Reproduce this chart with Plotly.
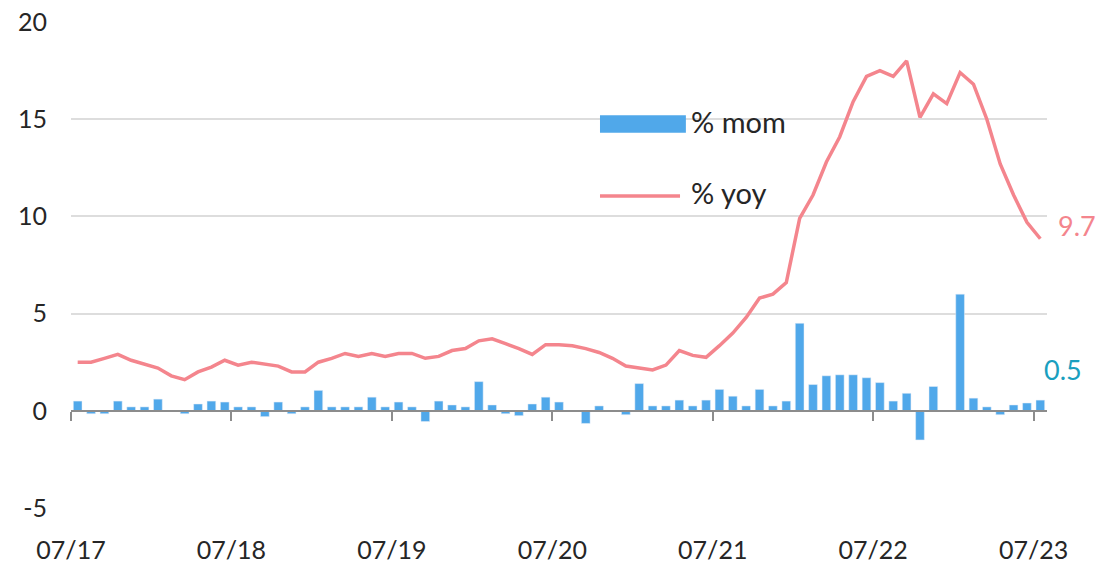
import plotly.graph_objects as go

# Monthly data, 07/2017 .. 07/2023 (73 months)
mom = [0.5, -0.15, -0.15, 0.5, 0.2, 0.2, 0.6, 0.0, -0.15, 0.35, 0.5, 0.45,
       0.2, 0.2, -0.3, 0.45, -0.15, 0.2, 1.05, 0.2, 0.2, 0.2, 0.7, 0.2,
       0.45, 0.2, -0.55, 0.5, 0.3, 0.2, 1.5, 0.3, -0.15, -0.25, 0.35, 0.7,
       0.45, 0.0, -0.65, 0.25, 0.0, -0.2, 1.4, 0.25, 0.25, 0.55, 0.25, 0.55,
       1.1, 0.75, 0.25, 1.1, 0.25, 0.5, 4.5, 1.35, 1.8, 1.85, 1.85, 1.7,
       1.45, 0.5, 0.9, -1.5, 1.25, 0.0, 6.0, 0.65, 0.2, -0.2, 0.3, 0.4, 0.55]
yoy = [2.5, 2.5, 2.7, 2.9, 2.6, 2.4, 2.2, 1.8, 1.6, 2.0, 2.25, 2.6,
       2.35, 2.5, 2.4, 2.3, 2.0, 2.0, 2.5, 2.7, 2.95, 2.8, 2.95, 2.8,
       2.95, 2.95, 2.7, 2.8, 3.1, 3.2, 3.6, 3.7, 3.45, 3.2, 2.9, 3.4,
       3.4, 3.35, 3.2, 3.0, 2.7, 2.3, 2.2, 2.1, 2.35, 3.1, 2.85, 2.75,
       3.35, 4.0, 4.8, 5.8, 6.0, 6.6, 9.9, 11.1, 12.8, 14.1, 15.9, 17.2,
       17.5, 17.2, 18.0, 15.1, 16.3, 15.8, 17.4, 16.8, 15.0, 12.7, 11.1, 9.7, 8.85]
tick_labels = ["07/17", "07/18", "07/19", "07/20", "07/21", "07/22", "07/23"]
y_tick_vals = [-5, 0, 5, 10, 15, 20]
y_tick_text = ["-5", "0", "5", "10", "15", "20"]
series_names = ["% mom", "% yoy"]
label_yoy = "9.7"
label_mom = "0.5"

n = len(mom)
x_centers = [i + 0.5 for i in range(n)]
tick_vals = [12 * k for k in range(len(tick_labels))]

BLUE = "#50A8EA"
PINK = "#F4858D"
TEAL = "#1A9FBF"
TXT = "#262626"
FONT = "Lato"

fig = go.Figure()
fig.add_trace(go.Bar(x=x_centers, y=mom, name=series_names[0], marker_color=BLUE,
                     width=0.65, xaxis="x2", yaxis="y", showlegend=False))
fig.add_trace(go.Scatter(x=x_centers, y=yoy, name=series_names[1], mode="lines",
                         line=dict(color=PINK, width=3.5), xaxis="x", yaxis="y",
                         showlegend=False))

fig.update_layout(
    width=1099, height=565,
    margin=dict(l=71, r=52, t=22, b=57, autoexpand=False),
    paper_bgcolor="white", plot_bgcolor="white",
    font=dict(family=FONT, size=25, color=TXT),
    showlegend=False,
    xaxis=dict(range=[0, n], tickvals=tick_vals, ticktext=tick_labels,
               showgrid=False, zeroline=False, showline=False, automargin=False,
               ticks="outside", ticklen=20, tickcolor="rgba(0,0,0,0)",
               tickfont=dict(family=FONT, size=25, color=TXT)),
    xaxis2=dict(matches="x", overlaying="x", anchor="free", position=0.2, side="bottom",
                range=[0, n], tickvals=tick_vals, showticklabels=False, automargin=False,
                showgrid=False, zeroline=False, showline=True,
                linecolor="#8C8C8C", linewidth=1.5,
                ticks="outside", ticklen=9, tickwidth=1.5, tickcolor="#8C8C8C"),
    yaxis=dict(range=[-5, 20], tickvals=y_tick_vals, ticktext=y_tick_text, showgrid=True,
               gridcolor="#DDDDDD", gridwidth=1.5, zeroline=False, showline=False,
               automargin=False,
               ticks="outside", ticklen=18, tickcolor="rgba(0,0,0,0)",
               tickfont=dict(family=FONT, size=25, color=TXT)),
)

# Legend (drawn inside plot area as in the reference)
fig.add_shape(type="rect", xref="paper", yref="paper",
              x0=0.542, x1=0.630, y0=0.772, y1=0.808,
              fillcolor=BLUE, line=dict(width=0))
fig.add_shape(type="line", xref="paper", yref="paper",
              x0=0.542, x1=0.624, y0=0.642, y1=0.642,
              line=dict(color=PINK, width=3.5))
fig.add_annotation(xref="paper", yref="paper", x=0.633, y=0.795, text=series_names[0],
                   showarrow=False, xanchor="left", yanchor="middle",
                   font=dict(family=FONT, size=29, color=TXT))
fig.add_annotation(xref="paper", yref="paper", x=0.633, y=0.650, text=series_names[1],
                   showarrow=False, xanchor="left", yanchor="middle",
                   font=dict(family=FONT, size=29, color=TXT))

# End labels
fig.add_annotation(xref="paper", yref="paper", x=1.009, y=0.582, text=label_yoy,
                   showarrow=False, xanchor="left", yanchor="middle",
                   font=dict(family=FONT, size=27, color=PINK))
fig.add_annotation(xref="paper", yref="paper", x=0.995, y=0.284, text=label_mom,
                   showarrow=False, xanchor="left", yanchor="middle",
                   font=dict(family=FONT, size=27, color=TEAL))

fig.write_html("out.html",
               config={"displayModeBar": False},
               post_script="document.body.style.margin='0';document.body.style.overflow='hidden';")
